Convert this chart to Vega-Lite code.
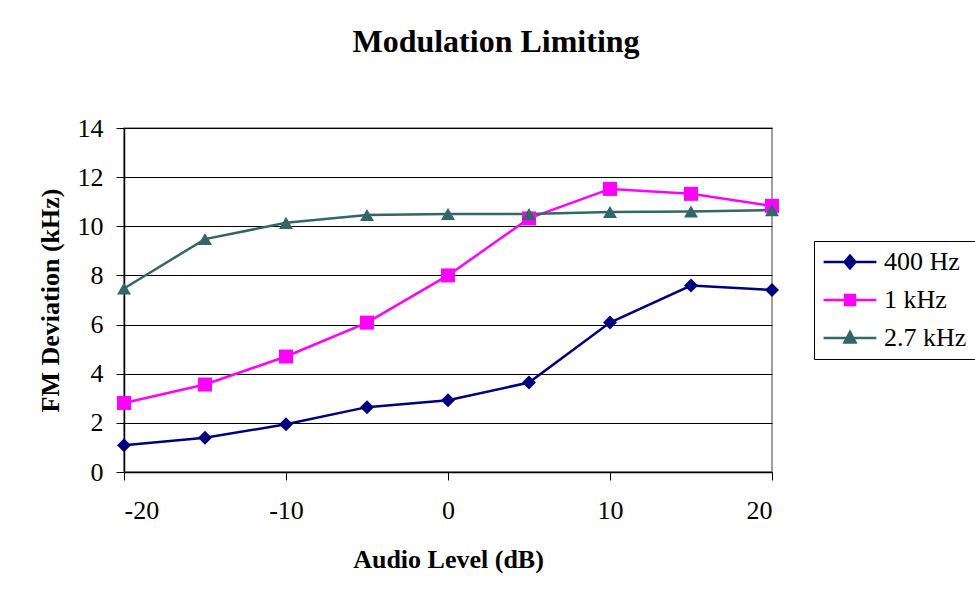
{
  "$schema": "https://vega.github.io/schema/vega-lite/v6.json",
  "autosize": {"type": "none"},
  "width": 648,
  "height": 344,
  "padding": {"left": 124, "top": 128, "right": 203, "bottom": 126},
  "background": "white",
  "title": {
    "text": "Modulation Limiting",
    "font": "Liberation Serif",
    "fontSize": 32,
    "fontWeight": "bold",
    "color": "black",
    "anchor": "middle",
    "dx": 48,
    "offset": 56
  },
  "config": {
    "view": {"stroke": "#808080", "strokeWidth": 1.5},
    "axis": {
      "labelFont": "Liberation Serif",
      "labelFontSize": 26,
      "labelColor": "black",
      "titleFont": "Liberation Serif",
      "titleFontSize": 26,
      "titleFontWeight": "bold",
      "titleColor": "black",
      "domainColor": "black",
      "domainWidth": 1.5,
      "tickColor": "black",
      "tickWidth": 1
    }
  },
  "data": {
    "values": [
      {"level": -20, "dev": 1.09, "series": "400 Hz"},
      {"level": -15, "dev": 1.39, "series": "400 Hz"},
      {"level": -10, "dev": 1.94, "series": "400 Hz"},
      {"level": -5, "dev": 2.64, "series": "400 Hz"},
      {"level": 0, "dev": 2.92, "series": "400 Hz"},
      {"level": 5, "dev": 3.64, "series": "400 Hz"},
      {"level": 10, "dev": 6.08, "series": "400 Hz"},
      {"level": 15, "dev": 7.59, "series": "400 Hz"},
      {"level": 20, "dev": 7.41, "series": "400 Hz"},
      {"level": -20, "dev": 2.81, "series": "1 kHz"},
      {"level": -15, "dev": 3.56, "series": "1 kHz"},
      {"level": -10, "dev": 4.7, "series": "1 kHz"},
      {"level": -5, "dev": 6.08, "series": "1 kHz"},
      {"level": 0, "dev": 8.0, "series": "1 kHz"},
      {"level": 5, "dev": 10.32, "series": "1 kHz"},
      {"level": 10, "dev": 11.52, "series": "1 kHz"},
      {"level": 15, "dev": 11.32, "series": "1 kHz"},
      {"level": 20, "dev": 10.83, "series": "1 kHz"},
      {"level": -20, "dev": 7.47, "series": "2.7 kHz"},
      {"level": -15, "dev": 9.48, "series": "2.7 kHz"},
      {"level": -10, "dev": 10.14, "series": "2.7 kHz"},
      {"level": -5, "dev": 10.46, "series": "2.7 kHz"},
      {"level": 0, "dev": 10.5, "series": "2.7 kHz"},
      {"level": 5, "dev": 10.5, "series": "2.7 kHz"},
      {"level": 10, "dev": 10.58, "series": "2.7 kHz"},
      {"level": 15, "dev": 10.6, "series": "2.7 kHz"},
      {"level": 20, "dev": 10.66, "series": "2.7 kHz"}
    ]
  },
  "encoding": {
    "x": {
      "field": "level",
      "type": "quantitative",
      "scale": {"domain": [-20, 20], "nice": false},
      "axis": {
        "title": "Audio Level (dB)",
        "values": [-20, -10, 0, 10, 20],
        "labelExpr": "'' + datum.value",
        "grid": false,
        "tickSize": 8,
        "labelPadding": 17,
        "titlePadding": 23
      }
    },
    "y": {
      "field": "dev",
      "type": "quantitative",
      "scale": {"domain": [0, 14], "nice": false},
      "axis": {
        "title": "FM Deviation (kHz)",
        "values": [0, 2, 4, 6, 8, 10, 12, 14],
        "grid": true,
        "gridColor": "black",
        "gridWidth": 1,
        "tickSize": 8,
        "labelPadding": 13,
        "titlePadding": 14
      }
    },
    "color": {
      "field": "series",
      "type": "nominal",
      "scale": {"domain": ["400 Hz", "1 kHz", "2.7 kHz"], "range": ["#000080", "#FF00FF", "#336666"]},
      "legend": {
        "title": null,
        "orient": "none",
        "legendX": 690,
        "legendY": 113,
        "strokeColor": "black",
        "fillColor": "white",
        "padding": 8,
        "symbolSize": 121,
        "symbolOpacity": 1,
        "symbolStrokeWidth": 2.5,
        "symbolOffset": 15,
        "labelOffset": 21,
        "labelFont": "Liberation Serif",
        "labelFontSize": 26,
        "labelColor": "black",
        "rowPadding": 12,
        "labelLimit": 300,
        "encode": {
          "symbols": {
            "update": {
              "fill": {"scale": "color", "field": "value"},
              "stroke": {"scale": "color", "field": "value"}
            }
          }
        }
      }
    }
  },
  "layer": [
    {
      "mark": {"type": "line", "strokeWidth": 2.5}
    },
    {
      "transform": [{"filter": "datum.series === '400 Hz'"}],
      "mark": {"type": "point", "filled": true, "opacity": 1, "size": 196, "shape": "diamond"}
    },
    {
      "transform": [{"filter": "datum.series === '1 kHz'"}],
      "mark": {"type": "point", "filled": true, "opacity": 1, "size": 196, "shape": "square"}
    },
    {
      "transform": [{"filter": "datum.series === '2.7 kHz'"}],
      "mark": {"type": "point", "filled": true, "opacity": 1, "size": 196, "shape": "triangle-up"}
    },
    {
      "mark": {"type": "point", "opacity": 0, "size": 121, "strokeWidth": 2.5},
      "encoding": {
        "shape": {
          "field": "series",
          "type": "nominal",
          "scale": {
            "domain": ["400 Hz", "1 kHz", "2.7 kHz"],
            "range": [
              "M-4.8,0L4.8,0M0,-1.15L1,0L0,1.15L-1,0Z",
              "M-4.8,0L4.8,0M-0.9,-0.9L0.9,-0.9L0.9,0.9L-0.9,0.9Z",
              "M-4.8,0L4.8,0M0,-1.1L1,0.8L-1,0.8Z"
            ]
          }
        }
      }
    }
  ]
}
